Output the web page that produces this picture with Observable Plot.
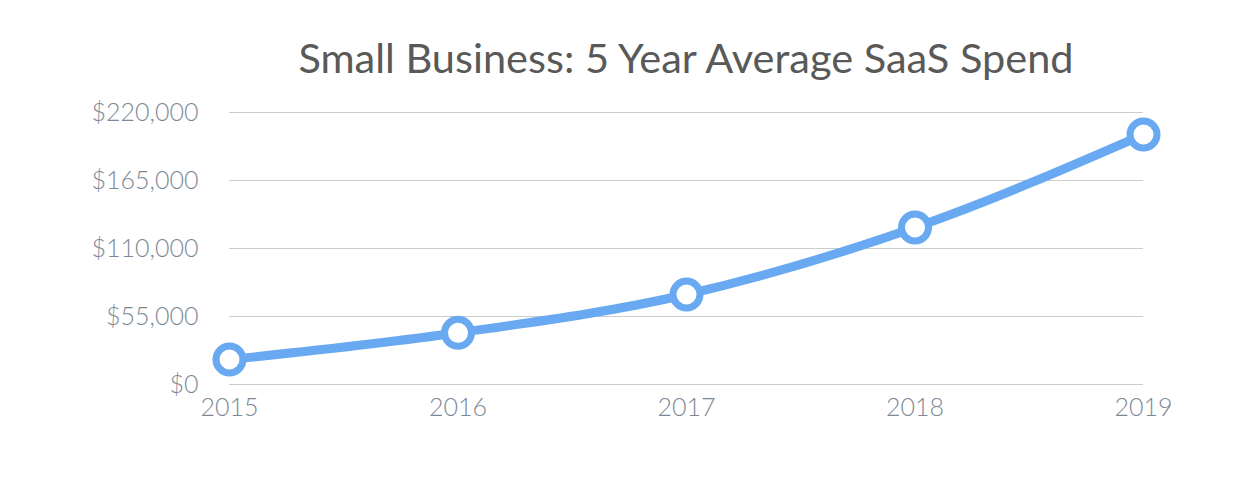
<!DOCTYPE html>
<html>
<head>
<meta charset="utf-8">
<script src="https://cdn.jsdelivr.net/npm/d3@7"></script>
<script src="https://cdn.jsdelivr.net/npm/@observablehq/plot@0.6"></script>
<style>
  html, body { margin: 0; padding: 0; background: #fff; }
  body { width: 1258px; height: 494px; overflow: hidden; font-family: Lato, sans-serif; }
  #title { height: 90px; box-sizing: border-box; padding-top: 33px; text-align: center;
           font-family: Lato, sans-serif; font-size: 41.5px; color: #595959; line-height: 48px;
           padding-left: 114px; white-space: nowrap; }
</style>
</head>
<body>
<div id="title">Small Business: 5 Year Average SaaS Spend</div>
<div id="chart"></div>
<script>
const years = [2015, 2016, 2017, 2018, 2019];
const spend = [20200, 41800, 72800, 127000, 202200];
const yTicks = [0, 55000, 110000, 165000, 220000];

const data = years.map((y, i) => ({year: y, spend: spend[i]}));
const fmt = d3.format("$,");

const chart = Plot.plot({
  width: 1258,
  height: 404,
  marginLeft: 229,
  marginRight: 115,
  marginTop: 22,
  marginBottom: 110,
  style: {fontFamily: "Lato, sans-serif", fontSize: "25px", fontWeight: 300, color: "#7d8896", background: "#fff"},
  x: {domain: [2015, 2019], ticks: years, tickFormat: d => String(d), tickSize: 0, tickPadding: 14, label: null},
  y: {domain: [0, 220000], ticks: yTicks, tickFormat: fmt, tickSize: 0, tickPadding: 31, label: null},
  marks: [
    Plot.gridY(yTicks, {stroke: "#cccccc", strokeOpacity: 1, strokeWidth: 1}),
    Plot.line(data, {x: "year", y: "spend", stroke: "#68a9f1", strokeWidth: 9, curve: "monotone-x"}),
    Plot.dot(data, {x: "year", y: "spend", r: 13.5, fill: "#fff", stroke: "#68a9f1", strokeWidth: 7})
  ]
});
document.getElementById("chart").appendChild(chart);
</script>
</body>
</html>
